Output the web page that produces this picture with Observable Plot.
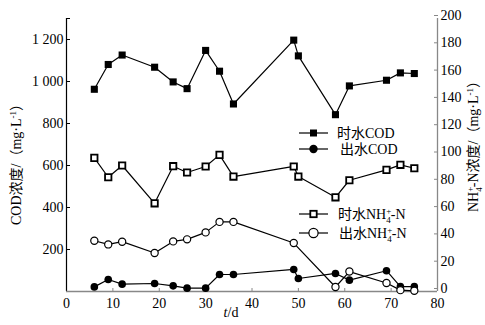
<!DOCTYPE html>
<html><head><meta charset="utf-8">
<script src="https://cdn.jsdelivr.net/npm/d3@7"></script>
<script src="https://cdn.jsdelivr.net/npm/@observablehq/plot@0.6"></script>
<style>body{margin:0;background:#fff} #chart{position:relative;width:485px;height:325px}</style>
</head><body><div id="chart"></div>
<script>
// ---- data ----
const days = [6, 9, 12, 19, 23, 26, 30, 33, 36, 49, 50, 58, 61, 69, 72, 75];
const influentCOD = [963, 1081, 1126, 1068, 998, 966, 1148, 1049, 893, 1197, 1122, 842, 979, 1006, 1041, 1038];
const effluentCOD = [22, 57, 35, 38, 27, 16, 16, 81, 81, 105, 62, 86, 54, 99, 23, 23];
const influentNH4 = [97.9, 83.7, 92.3, 64.6, 91.8, 87.2, 91.6, 100.1, 84.2, 91.6, 84.2, 69.0, 81.5, 89.1, 92.8, 90.3];
const effluentNH4Days = [6, 9, 12, 19, 23, 26, 30, 33, 36, 49, 58, 61, 69, 72, 75];
const effluentNH4 = [37.2, 34.5, 36.5, 28.2, 36.7, 38.2, 43.3, 51.0, 51.0, 35.5, 3.3, 14.6, 6.2, 1.0, 0.5];
const xTicks = [0, 10, 20, 30, 40, 50, 60, 70, 80];
const leftTicks = [200, 400, 600, 800, 1000, 1200, 1300];
const rightTicks = [0, 20, 40, 60, 80, 100, 120, 140, 160, 180, 200];
const seriesNames = ["时水COD", "出水COD", "时水NH", "出水NH"];

const CODmax = 1300, NHmax = 200, K = CODmax / NHmax;
const font = '"Liberation Serif","Times New Roman","Noto Sans CJK SC",serif';

const rowsIC = days.map((d, i) => ({day: d, v: influentCOD[i]}));
const rowsEC = days.map((d, i) => ({day: d, v: effluentCOD[i]}));
const rowsIN = days.map((d, i) => ({day: d, v: influentNH4[i] * K}));
const rowsEN = effluentNH4Days.map((d, i) => ({day: d, v: effluentNH4[i] * K}));

const fmt = d => d === 1300 ? "" : d >= 1000 ? `${Math.floor(d / 1000)} ${String(d % 1000).padStart(3, "0")}` : String(d);

const lineOpt = {x: "day", y: "v", stroke: "#000", strokeWidth: 1.2};
const plot = Plot.plot({
  width: 485, height: 325,
  marginLeft: 66, marginRight: 48, marginTop: 18, marginBottom: 34,
  style: {fontFamily: font, fontSize: "14px", background: "white", color: "black"},
  x: {domain: [0, 80]},
  y: {domain: [0, CODmax]},
  marks: [
    Plot.axisX({ticks: xTicks, tickSize: -3, tickPadding: 10, stroke: "#888", label: null, tickFormat: d => String(d)}),
    Plot.axisY({anchor: "left", ticks: leftTicks, tickSize: -4, tickPadding: 7, label: null, tickFormat: fmt}),
    Plot.axisY({anchor: "right", ticks: rightTicks.map(v => v * K), tickSize: -4, tickPadding: 7, dy: -3, stroke: "#888", label: null, tickFormat: d => String(Math.round(d / K))}),
    Plot.ruleX([0], {stroke: "#000", strokeWidth: 1.2}),
    Plot.ruleX([80], {stroke: "#888", strokeWidth: 1.3}),
    Plot.ruleY([0], {stroke: "#888", strokeWidth: 1.3}),
    Plot.line(rowsIC, lineOpt),
    Plot.line(rowsEC, lineOpt),
    Plot.line(rowsIN, lineOpt),
    Plot.line(rowsEN, lineOpt),
    Plot.dot(rowsIC, {x: "day", y: "v", symbol: "square", r: 4, fill: "#000", stroke: "none"}),
    Plot.dot(rowsEC, {x: "day", y: "v", symbol: "circle", r: 3.8, fill: "#000", stroke: "none"}),
    Plot.dot(rowsIN, {x: "day", y: "v", symbol: "square", r: 3.6, fill: "#fff", stroke: "#000", strokeWidth: 1.8}),
    Plot.dot(rowsEN, {x: "day", y: "v", symbol: "circle", r: 3.6, fill: "#fff", stroke: "#000", strokeWidth: 1.2})
  ]
});
document.getElementById("chart").appendChild(plot);

// ---- axis titles and legend ----
const svg = d3.select(plot);
const g = svg.append("g").attr("font-family", font).attr("fill", "#000").attr("text-anchor", "start");

// x title
const xt = g.append("text").attr("x", 231).attr("y", 317).attr("text-anchor", "middle").attr("font-size", 14);
xt.append("tspan").attr("font-style", "italic").text("t");
xt.append("tspan").text("/d");

// left title
const lt = g.append("text").attr("transform", "translate(21,161) rotate(-90)").attr("text-anchor", "middle").attr("font-size", 14);
lt.append("tspan").text("COD浓度/（mg·L");
lt.append("tspan").attr("dy", -5).attr("font-size", 9).text("-1");
lt.append("tspan").attr("dy", 5).text("）");

// right title
const rt = g.append("text").attr("transform", "translate(478,143) rotate(-90)").attr("text-anchor", "middle").attr("font-size", 14);
rt.append("tspan").text("NH");
rt.append("tspan").attr("dy", -5).attr("font-size", 9).text("+");
rt.append("tspan").attr("dx", -5).attr("dy", 9).attr("font-size", 9).text("4");
rt.append("tspan").attr("dy", -4).text("-N浓度/（mg·L");
rt.append("tspan").attr("dy", -5).attr("font-size", 9).text("-1");
rt.append("tspan").attr("dy", 5).text("）");

// legend
const legend = [
  {y: 133, tx: 337, sym: "sq", fill: "#000", sub: false},
  {y: 149, tx: 340, sym: "ci", fill: "#000", sub: false},
  {y: 214, tx: 338, sym: "sq", fill: "#fff", sub: true},
  {y: 233, tx: 339, sym: "ci", fill: "#fff", sub: true}
];
legend.forEach((L, i) => {
  g.append("line").attr("x1", 299).attr("x2", 328).attr("y1", L.y).attr("y2", L.y).attr("stroke", "#000").attr("stroke-width", 1.2);
  if (L.sym === "sq") {
    const s = L.fill === "#000" ? 7 : 6.4;
    g.append("rect").attr("x", 313.5 - s / 2).attr("y", L.y - s / 2).attr("width", s).attr("height", s)
      .attr("fill", L.fill).attr("stroke", L.fill === "#000" ? "none" : "#000").attr("stroke-width", 1.8);
  } else {
    g.append("circle").attr("cx", 313.5).attr("cy", L.y).attr("r", L.fill === "#000" ? 4.2 : 4.6)
      .attr("fill", L.fill).attr("stroke", L.fill === "#000" ? "none" : "#000").attr("stroke-width", 1.2);
  }
  const t = g.append("text").attr("x", L.tx).attr("y", L.y + 5).attr("font-size", 14).attr("text-anchor", "start");
  t.append("tspan").text(seriesNames[i]);
  if (L.sub) {
    t.append("tspan").attr("dy", -5).attr("font-size", 9).text("+");
    t.append("tspan").attr("dx", -5).attr("dy", 9).attr("font-size", 9).text("4");
    t.append("tspan").attr("dy", -4).text("-N");
  }
});
</script>
</body></html>
